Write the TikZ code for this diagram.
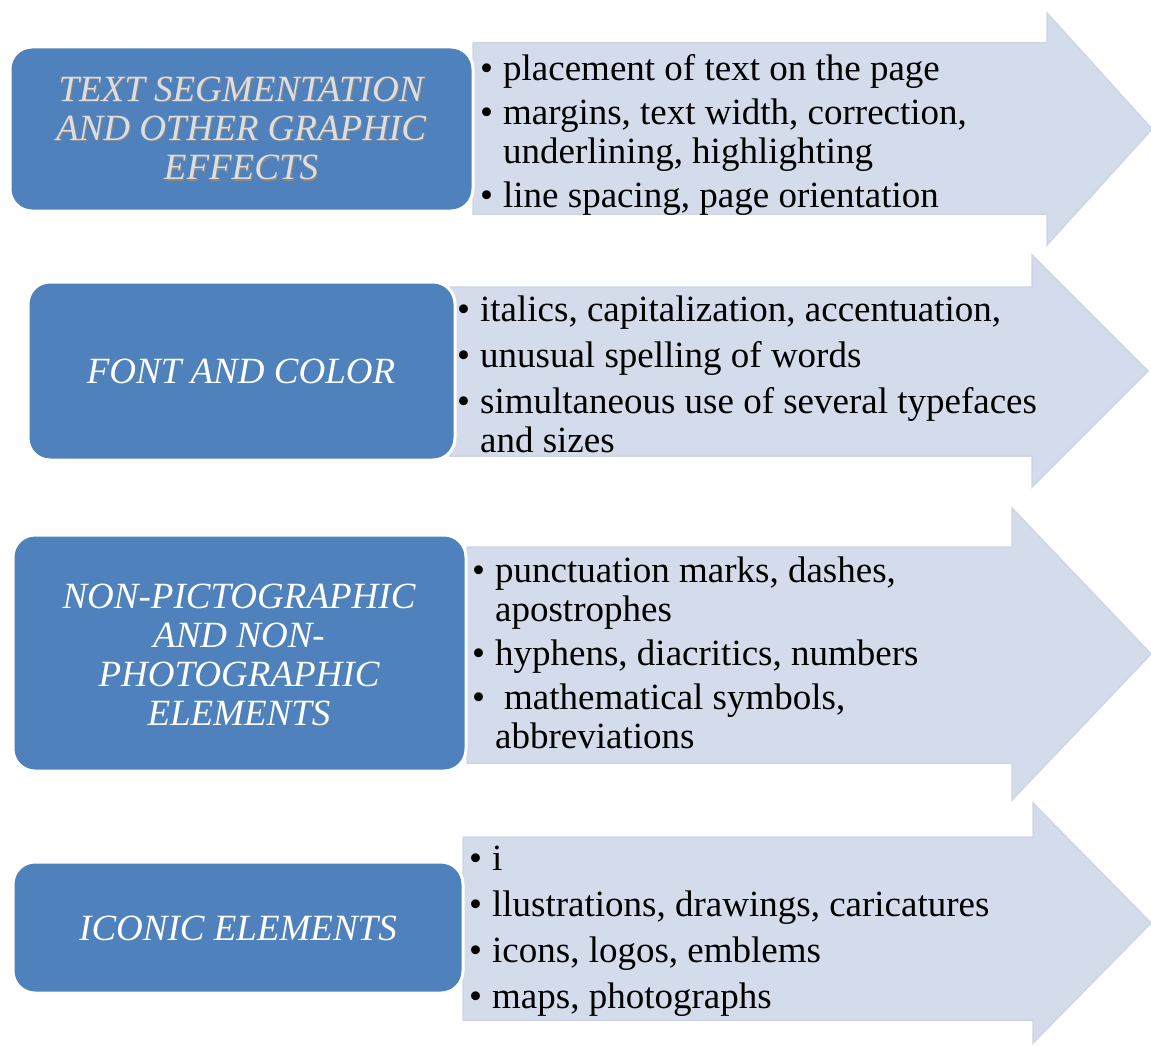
\documentclass[tikz,border=0pt]{standalone}
\usepackage{fontspec}
\setmainfont{Liberation Serif}
\definecolor{boxblue}{HTML}{4F81BD}
\definecolor{arrfill}{HTML}{D4DBEA}
\definecolor{arrline}{HTML}{CDD5E7}
\definecolor{lightlbl}{HTML}{DEDEDE}
\definecolor{lblshadow}{HTML}{8A8A8A}
\newcommand{\bl}{\textbullet}
\tikzset{
  arrowshape/.style={fill=arrfill, draw=arrline, line width=1.5pt, line join=miter},
  catbox/.style={fill=boxblue, draw=white, line width=3pt, rounded corners=22pt},
  listtext/.style={inner sep=0pt, anchor=base west, font=\fontsize{37}{39}\selectfont},
  cattext/.style={inner sep=0pt, anchor=base, text=white, font=\fontsize{37}{39}\selectfont\itshape},
}
\begin{document}
\begin{tikzpicture}[x=1pt, y=-1pt]
\useasboundingbox (0,0) rectangle (1151,1046);
% arrows
\draw[arrowshape] (473,43) -- (1047,43) -- (1047,13) -- (1152,129) -- (1047,245) -- (1047,214) -- (473,214) -- cycle;
\draw[arrowshape] (450,287) -- (1032,287) -- (1032,255) -- (1148,371) -- (1032,487) -- (1032,456) -- (450,456) -- cycle;
\draw[arrowshape] (467,547) -- (1012,547) -- (1012,508) -- (1151,654) -- (1012,800) -- (1012,763) -- (467,763) -- cycle;
\draw[arrowshape] (463,837) -- (1033,837) -- (1033,803) -- (1151,923) -- (1033,1043) -- (1033,1020) -- (463,1020) -- cycle;
% boxes
\draw[catbox] (10,47) rectangle (473,211);
\draw[catbox] (28,282) rectangle (455,460);
\draw[catbox] (13,535) rectangle (466,771);
\draw[catbox] (13,862) rectangle (463,993);
% box labels
\node[cattext, text=lblshadow] (c1s) at (242,103) {\begin{tabular}[t]{@{}c@{}}TEXT SEGMENTATION\\AND OTHER GRAPHIC\\EFFECTS\end{tabular}};
\node[cattext, text=lightlbl] (c1) at (241,102) {\begin{tabular}[t]{@{}c@{}}TEXT SEGMENTATION\\AND OTHER GRAPHIC\\EFFECTS\end{tabular}};
\node[cattext] (c2) at (241,383) {FONT AND COLOR};
\node[cattext] (c3) at (239,608) {\begin{tabular}[t]{@{}c@{}}NON-PICTOGRAPHIC\\AND NON-\\PHOTOGRAPHIC\\ELEMENTS\end{tabular}};
\node[cattext] (c4) at (238,940) {ICONIC ELEMENTS};
% lists
\node[listtext] (l1) at (480,81) {\begin{tabular}[t]{@{}l@{\hspace{10pt}}l@{}}
\bl & placement of text on the page\\[5pt]
\bl & margins, text width, correction,\\
    & underlining, highlighting\\[5pt]
\bl & line spacing, page orientation
\end{tabular}};
\node[listtext] (l2) at (457,321) {\begin{tabular}[t]{@{}l@{\hspace{10pt}}l@{}}
\bl & italics, capitalization, accentuation,\\[7pt]
\bl & unusual spelling of words\\[7pt]
\bl & simultaneous use of several typefaces\\
    & and sizes
\end{tabular}};
\node[listtext] (l3) at (472,582) {\begin{tabular}[t]{@{}l@{\hspace{10pt}}l@{}}
\bl & punctuation marks, dashes,\\
    & apostrophes\\[5pt]
\bl & hyphens, diacritics, numbers\\[5pt]
\bl & \hspace{9pt}mathematical symbols,\\
    & abbreviations
\end{tabular}};
\node[listtext] (l4) at (469,870) {\begin{tabular}[t]{@{}l@{\hspace{10pt}}l@{}}
\bl & i\\[7pt]
\bl & llustrations, drawings, caricatures\\[7pt]
\bl & icons, logos, emblems\\[7pt]
\bl & maps, photographs
\end{tabular}};
\end{tikzpicture}
\end{document}
